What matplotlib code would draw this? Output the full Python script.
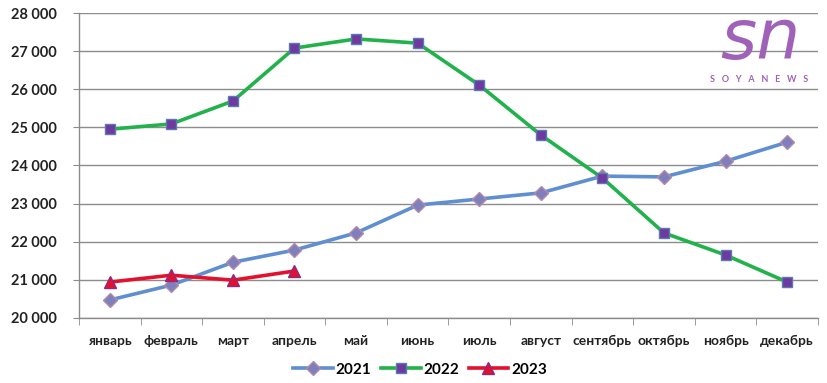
import matplotlib
matplotlib.use("Agg")
import matplotlib.pyplot as plt
import numpy as np

months = ["январь", "февраль", "март", "апрель", "май", "июнь", "июль",
          "август", "сентябрь", "октябрь", "ноябрь", "декабрь"]
s2021 = [20470, 20860, 21460, 21780, 22230, 22960, 23120, 23280, 23720, 23700, 24110, 24610]
s2022 = [24950, 25090, 25690, 27080, 27320, 27210, 26110, 24800, 23670, 22230, 21650, 20940]
s2023 = [20940, 21120, 20990, 21230]
yticks = [20000, 21000, 22000, 23000, 24000, 25000, 26000, 27000, 28000]

plt.rcParams['font.family'] = ['Lato', 'DejaVu Sans']

fig = plt.figure(figsize=(8.27, 3.83), dpi=100)
ax = fig.add_axes([0.0955, 0.170, 0.8935, 0.796])

x = np.arange(len(months))
ax.plot(x, s2021, color="#5F8FD0", lw=2.6, marker="D", ms=7.5,
        mfc="#7E80BE", mec="#B38AA8", mew=1.0, label="2021", zorder=3)
ax.plot(x, s2022, color="#22B24C", lw=2.6, marker="s", ms=7,
        mfc="#6E3AA0", mec="#5A7AB0", mew=1.0, label="2022", zorder=3)
ax.plot(np.arange(len(s2023)), s2023, color="#E3102E", lw=2.6, marker="^", ms=8.5,
        mfc="#E3102E", mec="#8A2A80", mew=1.0, label="2023", zorder=4)

ax.set_xlim(-0.5, len(months) - 0.5)
ax.set_ylim(20000, 28000)
ax.set_yticks(yticks)
ax.set_yticklabels([f"{v // 1000} {v % 1000:03d}" for v in yticks], fontsize=10.5,
                   fontweight="bold", color="#222222")
ax.yaxis.grid(True, color="#8C8C8C", lw=1)
ax.set_axisbelow(True)

ax.set_xticks(x)
ax.set_xticklabels(months, fontsize=10, fontweight="bold", color="#222222")
ax.set_xticks(np.arange(-0.5, len(months)), minor=True)
ax.tick_params(axis="x", which="major", length=0, pad=12)
ax.tick_params(axis="x", which="minor", length=5, color="#8C8C8C", direction="out")
ax.tick_params(axis="y", length=4, color="#8C8C8C", pad=12)

for side in ["top", "right"]:
    ax.spines[side].set_visible(False)
for side in ["left", "bottom"]:
    ax.spines[side].set_color("#8C8C8C")
    ax.spines[side].set_linewidth(1)

leg = fig.legend(loc="center", bbox_to_anchor=(0.508, 0.035), ncol=3, frameon=False,
                 prop={"size": 11, "weight": "bold"}, handlelength=2.6,
                 columnspacing=0.6, handletextpad=0.2)

fig.text(0.919, 0.845, "sn", fontsize=50, color="#A062B8", style="italic",
         ha="center", va="baseline", family="DejaVu Sans")
fig.text(0.918, 0.793, "S   O   Y   A   N   E   W   S", fontsize=6.5, color="#A062B8",
         ha="center", va="center", fontweight="bold")

fig.savefig("out.png", dpi=100, facecolor="white")
